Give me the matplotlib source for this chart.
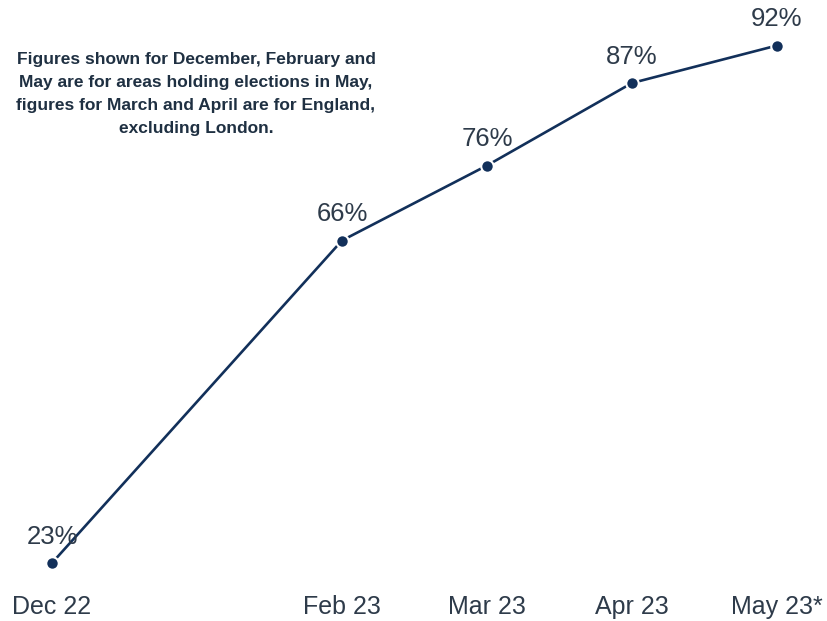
import matplotlib.pyplot as plt

plt.rcParams['font.family'] = ['Liberation Sans', 'DejaVu Sans']

months = ['Dec 22', 'Feb 23', 'Mar 23', 'Apr 23', 'May 23*']
month_pos = [0, 2, 3, 4, 5]  # months since Dec 22
values = [23, 66, 76, 87, 92]
note = ('Figures shown for December, February and\n'
        'May are for areas holding elections in May,\n'
        'figures for March and April are for England,\n'
        'excluding London.')

line_col = '#12305a'
text_col = '#2e3b4a'

fig = plt.figure(figsize=(8.27, 6.21), dpi=100)
ax = fig.add_axes([0, 0, 1, 1])

ax.plot(month_pos, values, color=line_col, lw=1.9, marker='o', ms=9,
        mfc=line_col, mec='white', mew=1.5, zorder=3)

for x, v in zip(month_pos, values):
    ax.annotate(f'{v}%', (x, v), xytext=(0, 19), textcoords='offset points',
                ha='center', va='center', fontsize=18.5, color=text_col)

ax.set_xlim(-52 / 145, 775 / 145)
ax.set_ylim(23 - 58 / 7.5, 23 + 563 / 7.5)
ax.axis('off')

# category labels along the bottom
for x, lab in zip(month_pos, months):
    ax.text(x, 23 - 44 / 7.5, lab, ha='center', va='center', fontsize=18,
            color=text_col)

ax.text(196 / 145 - 52 / 145, 23 + (563 - 94) / 7.5, note, ha='center',
        va='center', fontsize=12.5, fontweight='bold', color='#1f3042',
        linespacing=1.68)

fig.savefig('out.png', dpi=100)
